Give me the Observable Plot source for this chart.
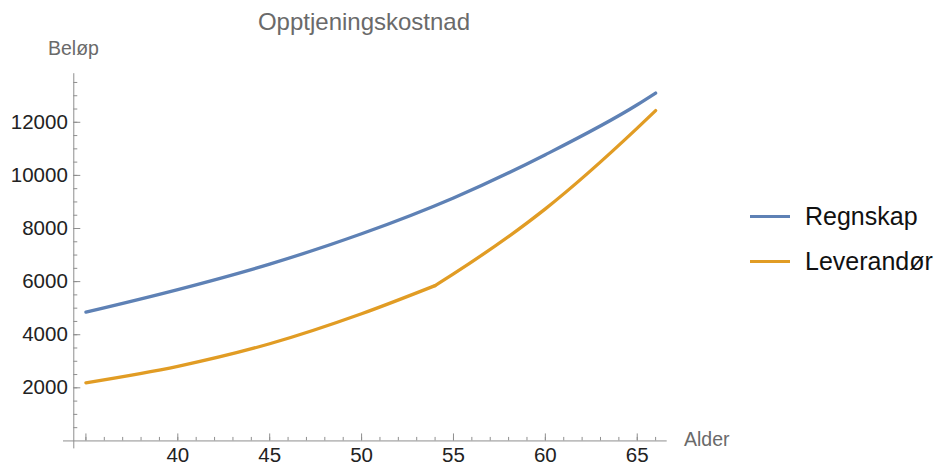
<!DOCTYPE html>
<html>
<head>
<meta charset="utf-8">
<script src="https://cdn.jsdelivr.net/npm/d3@7"></script>
<script src="https://cdn.jsdelivr.net/npm/@observablehq/plot@0.6"></script>
<style>
  html, body { margin: 0; padding: 0; background: #fff; }
  #wrap { position: relative; width: 938px; height: 465px; font-family: "Liberation Sans", Arial, sans-serif; }
  #wrap svg { position: absolute; left: 0; top: 0; overflow: visible; }
  .lbl { position: absolute; white-space: nowrap; line-height: 1; }
  .title { left: 0; width: 728px; text-align: center; top: 10px; font-size: 24px; color: #6a6a6a; }
  .ylab { left: 48px; top: 39px; font-size: 19.5px; color: #6a6a6a; }
  .xlab { left: 684px; top: 430px; font-size: 19.5px; color: #6a6a6a; }
  .leg { position: absolute; left: 750px; display: flex; align-items: center; font-size: 25px; color: #111; }
  .leg .sw { width: 40px; height: 3.5px; margin-right: 15px; }
</style>
</head>
<body>
<div id="wrap"></div>
<script>
// ---- data ----
const title = "Opptjeningskostnad";
const yLabel = "Beløp";
const xLabel = "Alder";
const seriesNames = ["Regnskap", "Leverandør"];
const seriesColors = ["#5E81B5", "#E19C24"];

const agesRegnskap = [35, 40, 45, 50, 55, 60, 65, 66];
const regnskap =     [4850, 5700, 6660, 7800, 9150, 10780, 12660, 13100];

const agesLeverandor = [35, 40, 45, 50, 54, 55, 60, 65, 66];
const leverandor =     [2190, 2810, 3660, 4790, 5850, 6290, 8740, 11780, 12440];
const leverandorKink = 54;

const xMajorTicks = [35, 40, 45, 50, 55, 60, 65];
const xTickLabels = [40, 45, 50, 55, 60, 65];
const xMinorTicks = d3.range(35, 67, 1);
const yTickLabels = [2000, 4000, 6000, 8000, 10000, 12000];
const yMinorTicks = d3.range(500, 14000, 500);

// ---- build tables ----
const regData = agesRegnskap.map((a, i) => ({age: a, value: regnskap[i], seg: "r"}));
const levData = [];
agesLeverandor.forEach((a, i) => {
  if (a <= leverandorKink) levData.push({age: a, value: leverandor[i], seg: "l1"});
  if (a >= leverandorKink) levData.push({age: a, value: leverandor[i], seg: "l2"});
});

const yAxisAt = 34.34;
const axisColor = "#8f8f8f";
const tickColor = "#222";

const chart = Plot.plot({
  width: 938,
  height: 465,
  marginLeft: 63,
  marginRight: 271.3,
  marginTop: 73.2,
  marginBottom: 16.6,
  style: {fontFamily: "'Liberation Sans', Arial, sans-serif", background: "transparent"},
  x: {domain: [33.78, 66.63], axis: null},
  y: {domain: [-300, 13830], axis: null},
  marks: [
    // axis lines
    Plot.ruleY([0], {x1: 33.78, x2: 66.63, stroke: axisColor, strokeWidth: 1}),
    Plot.ruleX([yAxisAt], {y1: -300, y2: 13830, stroke: axisColor, strokeWidth: 1}),
    // y ticks
    Plot.ruleY(yMinorTicks, {x1: yAxisAt, x2: yAxisAt, insetRight: -4, stroke: axisColor}),
    Plot.ruleY(yTickLabels, {x1: yAxisAt, x2: yAxisAt, insetRight: -7, stroke: axisColor}),
    Plot.text(yTickLabels, {x: yAxisAt, y: d => d, text: d => String(d), textAnchor: "end", dx: -6, fontSize: 20.5, fill: tickColor}),
    // x ticks
    Plot.ruleX(xMinorTicks, {y1: 0, y2: 0, insetTop: -3.5, stroke: axisColor}),
    Plot.ruleX(xMajorTicks, {y1: 0, y2: 0, insetTop: -7, stroke: axisColor}),
    Plot.text(xTickLabels, {x: d => d, y: 0, text: d => String(d), dy: 15, fontSize: 20.5, fill: tickColor}),
    // series
    Plot.line(levData, {x: "age", y: "value", z: "seg", stroke: seriesColors[1], strokeWidth: 3.3, curve: "monotone-x"}),
    Plot.line(regData, {x: "age", y: "value", z: "seg", stroke: seriesColors[0], strokeWidth: 3.3, curve: "monotone-x"})
  ]
});

const wrap = document.getElementById("wrap");
wrap.appendChild(chart);

function addLabel(cls, text) {
  const d = document.createElement("div");
  d.className = "lbl " + cls;
  d.textContent = text;
  wrap.appendChild(d);
}
addLabel("title", title);
addLabel("ylab", yLabel);
addLabel("xlab", xLabel);

const legendTops = [216.5, 261.5];
seriesNames.forEach((name, i) => {
  const row = document.createElement("div");
  row.className = "leg";
  row.style.top = (legendTops[i] - 15) + "px";
  row.style.height = "30px";
  const sw = document.createElement("div");
  sw.className = "sw";
  sw.style.background = seriesColors[i];
  const t = document.createElement("span");
  t.textContent = name;
  row.appendChild(sw);
  row.appendChild(t);
  wrap.appendChild(row);
});
</script>
</body>
</html>
